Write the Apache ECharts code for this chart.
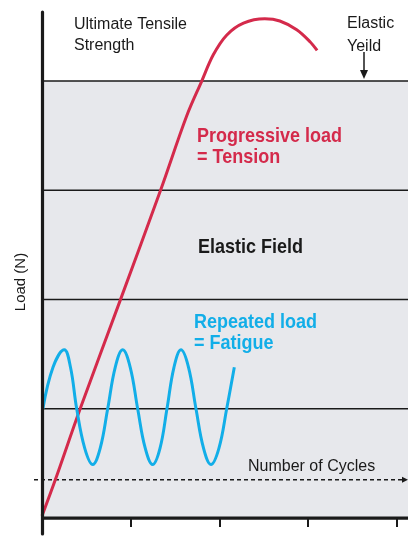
<!DOCTYPE html>
<html><head><meta charset="utf-8">
<script src="https://cdn.jsdelivr.net/npm/echarts@6/dist/echarts.min.js"></script>
<style>html,body{margin:0;padding:0;background:#fff}#c{width:408px;height:553px}</style>
</head><body><div id="c"></div>
<script>
// ---- data (elongation units on x, load units on y) ----
const tensionX = [0, 0.15, 0.43, 0.88, 1.34, 1.63, 1.80, 1.93, 2.08, 2.27, 2.51, 2.68, 2.87, 3.02, 3.10];
const tensionY = [0.02, 0.35, 1.00, 1.99, 3.01, 3.68, 4.00, 4.24, 4.42, 4.53, 4.57, 4.55, 4.47, 4.36, 4.28];
const fatigueX = [0.01, 0.124, 0.251, 0.321, 0.391, 0.481, 0.571, 0.656, 0.740, 0.825, 0.909, 0.994, 1.078,
                  1.163, 1.247, 1.330, 1.408, 1.487, 1.566, 1.651, 1.735, 1.820, 1.904, 1.994, 2.081, 2.167];
const fatigueY = [1.0, 1.38, 1.54, 1.38, 1.0, 0.64, 0.49, 0.64, 1.0, 1.38, 1.54, 1.38, 1.0,
                  0.64, 0.49, 0.64, 1.0, 1.38, 1.54, 1.38, 1.0, 0.64, 0.49, 0.64, 1.0, 1.38];
const fieldBoundaries = [1, 2, 3, 4];
const cyclesLevel = 0.35;
const cyclesRange = [-0.09, 4.09];
const xTicks = [0, 1, 2, 3, 4];
const X_MIN = -0.0902, X_MAX = 4.124, Y_MIN = -0.146, Y_MAX = 4.632;

const RED = '#d42a4b', BLUE = '#12aee8', INK = '#1a1a1a', GREY = '#e7e8ec';
const FF = '"Liberation Sans", Arial, sans-serif';

const zip = (xs, ys) => xs.map((x, i) => [x, ys[i]]);

const series = [];
fieldBoundaries.forEach((b) => {
  const s = {
    type: 'line', silent: true, symbol: 'none', z: 2,
    data: [[0, b], [X_MAX, b]],
    lineStyle: { color: INK, width: 1.5 }
  };
  if (b === Math.max(...fieldBoundaries)) {
    s.areaStyle = { color: GREY, opacity: 1, origin: 'auto' };
    s.z = 1;
  }
  series.push(s);
});
series.push({
  type: 'line', silent: true, z: 3,
  data: [
    { value: [cyclesRange[0], cyclesLevel], symbol: 'none' },
    { value: [cyclesRange[1], cyclesLevel], symbol: 'triangle', symbolSize: [6, 6], symbolRotate: -90 }
  ],
  itemStyle: { color: INK },
  lineStyle: { color: INK, width: 1.5, type: [4, 3] }
});
series.push({
  type: 'line', silent: true, symbol: 'none', smooth: 0.35, z: 5,
  data: zip(tensionX, tensionY),
  lineStyle: { color: RED, width: 3 }
});
series.push({
  type: 'line', silent: true, symbol: 'none', smooth: 0.4, z: 6,
  data: zip(fatigueX, fatigueY),
  lineStyle: { color: BLUE, width: 3 }
});
// elongation axis baseline (starts at the load axis)
series.push({
  type: 'line', silent: true, symbol: 'none', z: 9,
  data: [[0, 0], [X_MAX, 0]],
  lineStyle: { color: INK, width: 3.2, cap: 'butt' }
});

function txt(x, y, text, size, weight, color, sy) {
  return {
    type: 'text', x: x, y: y, silent: true, z: 20, scaleY: sy || 1,
    style: { text: text, fill: color, font: weight + ' ' + size + 'px ' + FF, align: 'left', verticalAlign: 'middle' }
  };
}

const chart = echarts.init(document.getElementById('c'));
chart.setOption({
  animation: false,
  backgroundColor: '#fff',
  grid: { left: 34, right: 0, top: 12, bottom: 19, containLabel: false, outerBoundsMode: 'none' },
  xAxis: {
    type: 'value', min: X_MIN, max: X_MAX, z: 10,
    axisLine: { show: false, onZero: true },
    axisTick: { show: true, customValues: xTicks, length: 9, lineStyle: { color: INK, width: 2 } },
    axisLabel: { show: false }, splitLine: { show: false },
    name: 'Elongation (%)', nameLocation: 'middle', nameGap: 23,
    nameTextStyle: { fontSize: 16, color: INK, fontFamily: FF, padding: [0, 0, 0, 8] }
  },
  yAxis: {
    type: 'value', min: Y_MIN, max: Y_MAX, z: 10, offset: -8,
    axisLine: { onZero: false, lineStyle: { color: INK, width: 3.2 } },
    axisTick: { show: false }, axisLabel: { show: false }, splitLine: { show: false },
    name: 'Load (N)', nameLocation: 'middle', nameGap: 14, nameRotate: 90,
    nameTextStyle: { fontSize: 15, color: INK, fontFamily: FF, padding: [0, 18, 0, 0] }
  },
  series: series,
  graphic: [
    txt(74, 24, 'Ultimate Tensile', 16, 'normal', INK, 1.08),
    txt(74, 45, 'Strength', 16, 'normal', INK, 1.08),
    txt(347, 23, 'Elastic', 16, 'normal', INK, 1.08),
    txt(347, 46, 'Yeild', 16, 'normal', INK, 1.08),
    { type: 'line', silent: true, z: 20, shape: { x1: 364, y1: 52, x2: 364, y2: 72 }, style: { stroke: INK, lineWidth: 1.5 } },
    { type: 'polygon', silent: true, z: 20, shape: { points: [[360, 70], [368, 70], [364, 79]] }, style: { fill: INK } },
    txt(197, 136, 'Progressive load', 18, 'bold', RED, 1.12),
    txt(197, 157, '= Tension', 18, 'bold', RED, 1.12),
    txt(198, 247, 'Elastic Field', 18, 'bold', INK, 1.12),
    txt(194, 322, 'Repeated load', 18, 'bold', BLUE, 1.12),
    txt(194, 343, '= Fatigue', 18, 'bold', BLUE, 1.12),
    txt(248, 466, 'Number of Cycles', 16, 'normal', INK, 1.08)
  ]
});
</script>
</body></html>
